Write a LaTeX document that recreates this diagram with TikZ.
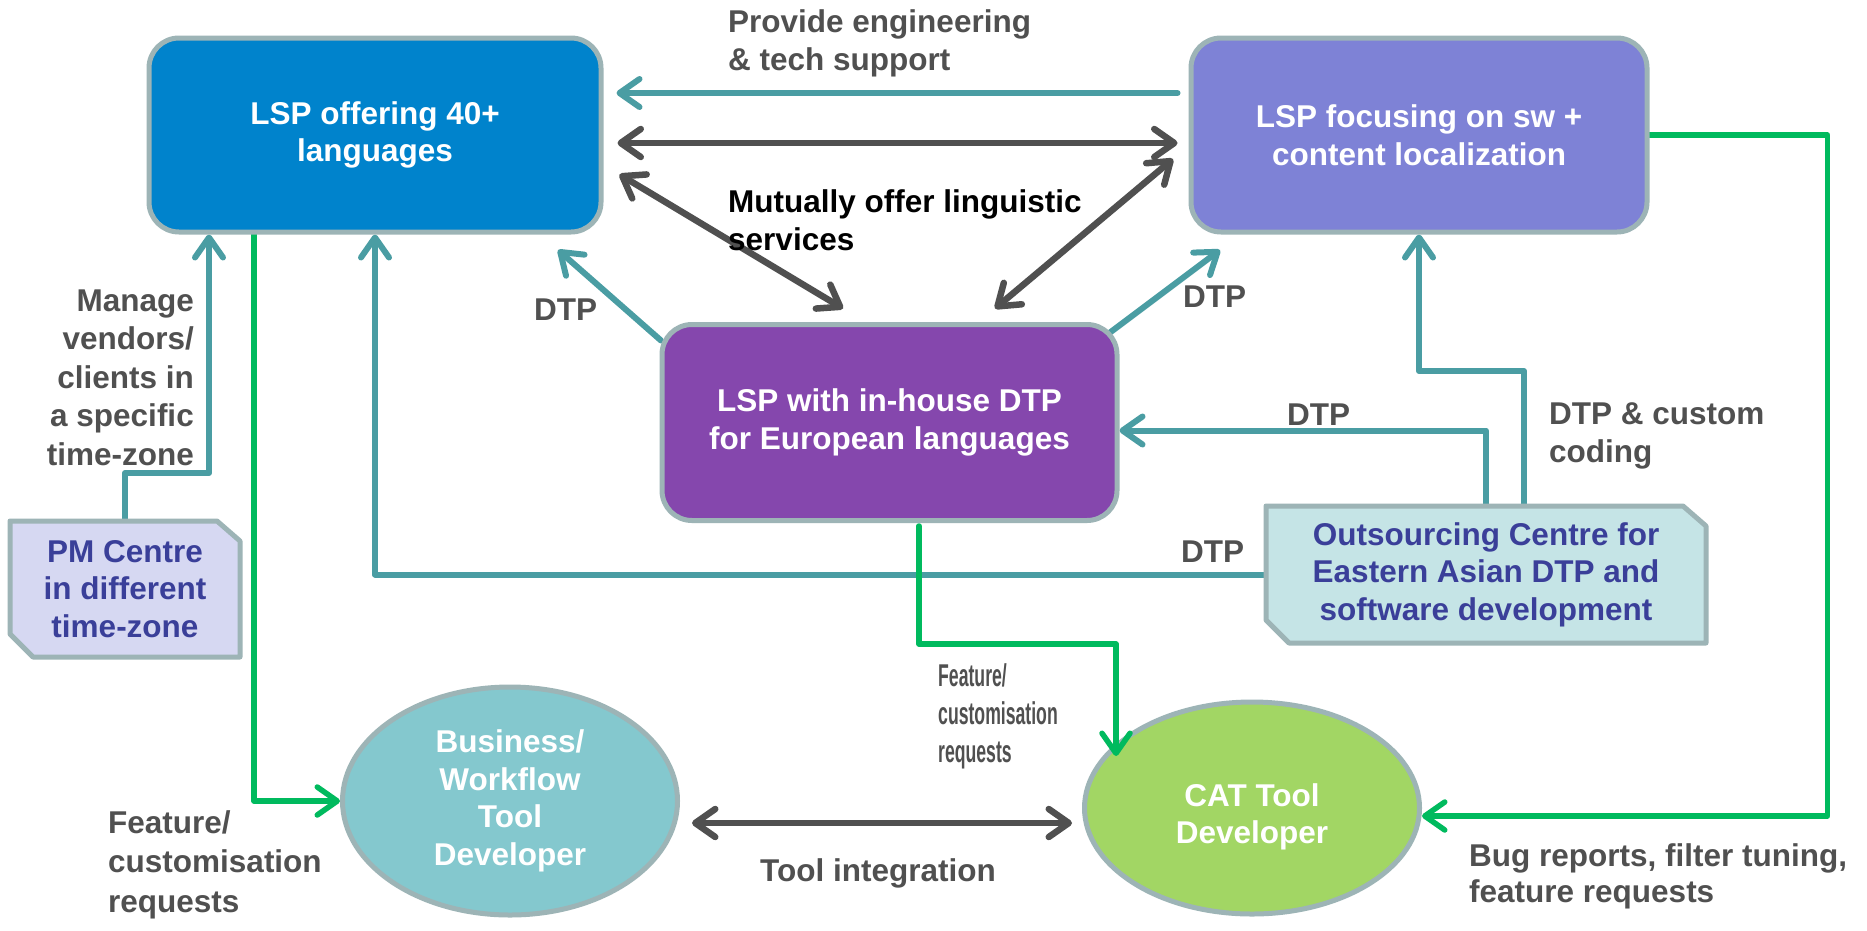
\documentclass[tikz,border=0pt]{standalone}
\usepackage{fontspec}
\setmainfont{Liberation Sans}
\usetikzlibrary{arrows.meta,shapes.geometric,calc}
\pgfdeclarelayer{canvas}
\pgfdeclarelayer{links}
\pgfdeclarelayer{plates}
\pgfdeclarelayer{overlinks}
\pgfsetlayers{canvas,links,plates,main,overlinks}

\definecolor{lspblue}{HTML}{0083CC}
\definecolor{lspviolet}{HTML}{7E82D6}
\definecolor{lsppurple}{HTML}{8547AD}
\definecolor{edgegray}{HTML}{9DB4B6}
\definecolor{pmfill}{HTML}{D6D8F2}
\definecolor{osfill}{HTML}{C5E4E6}
\definecolor{navytext}{HTML}{3A3F99}
\definecolor{bizfill}{HTML}{84C8CE}
\definecolor{catfill}{HTML}{A2D664}
\definecolor{linkteal}{HTML}{4A9DA3}
\definecolor{linkgreen}{HTML}{00BA5E}
\definecolor{linkgray}{HTML}{505050}
\definecolor{labelgray}{HTML}{505050}

\newcommand{\diagfont}{\fontsize{31.5}{37.5}\selectfont\bfseries}
% horizontally condensed line of text
\newcommand{\narrowline}[1]{\scalebox{0.56}[1]{#1}}

\begin{document}
\begin{tikzpicture}[x=1pt,y=-1pt,
  >={Straight Barb[length=20pt,width=28pt,round]},
  lsp/.style={draw=edgegray, line width=5pt, rounded corners=30pt,
    text=white, align=center, font=\diagfont},
  centre/.style={rectangle, inner sep=0pt, outer sep=0pt, text=navytext,
    align=center, font=\diagfont},
  plate/.style={draw=edgegray, line width=5pt, line join=round},
  dev/.style={ellipse, draw=edgegray, line width=5pt, inner sep=0pt,
    text=white, align=center, font=\diagfont},
  lbl/.style={text=labelgray, inner sep=0pt, font=\diagfont},
  tealline/.style={draw=linkteal, line width=6pt, line cap=round, line join=round},
  greenline/.style={draw=linkgreen, line width=5.5pt, line cap=round, line join=round},
  grayline/.style={draw=linkgray, line width=6.5pt, line cap=round, line join=round}]

\begin{pgfonlayer}{canvas}
  \fill[white] (0,0) rectangle (1867,930);
\end{pgfonlayer}
\useasboundingbox (0,0) rectangle (1867,930);

% service providers
\node[lsp, fill=lspblue, minimum width=452pt, minimum height=194pt] (A) at (375,135)
  {LSP offering 40+\\languages};
\node[lsp, fill=lspviolet, minimum width=456pt, minimum height=194pt] (B) at (1419,135)
  {LSP focusing on sw +\\content localization};
\node[lsp, fill=lsppurple, minimum width=455pt, minimum height=196pt] (C) at (889.5,422.5)
  {LSP with in-house DTP\\for European languages};

% centres (plates with two clipped corners)
\node[centre, minimum width=230pt, minimum height=136pt] (PM) at (125,589)
  {PM Centre\\in different\\time-zone};
\node[centre, minimum width=440pt, minimum height=137pt] (O) at (1486,574.5)
  {Outsourcing Centre for\\Eastern Asian DTP and\\software development};
\begin{pgfonlayer}{plates}
  \foreach \c/\f in {PM/pmfill, O/osfill}{
    \filldraw[plate, fill=\f] (\c.north west) -- ($(\c.north east)+(-23,0)$)
      -- ($(\c.north east)+(0,20)$) -- (\c.south east)
      -- ($(\c.south west)+(23,0)$) -- ($(\c.south west)+(0,-23)$) -- cycle;
  }
\end{pgfonlayer}

% tool developers
\node[dev, fill=bizfill, minimum width=335pt, minimum height=228pt] (Bus) at (510,801)
  {Business/\\Workflow\\Tool\\Developer};
\node[dev, fill=catfill, minimum width=335pt, minimum height=212pt] (CAT) at (1252,808) {};
\node[text=white, align=center, font=\diagfont, inner sep=0pt] (CATtext) at (1252,817)
  {CAT Tool\\Developer};

\begin{pgfonlayer}{links}
  \coordinate (ysupport) at (0,93);
  \coordinate (ymutual) at (0,143);
  \coordinate (ytool) at (0,823);

  % between the two upper providers
  \draw[tealline,->,shorten <=11pt,shorten >=13pt] (B.west |- ysupport) -- (A.east |- ysupport);
  \draw[grayline,<->,shorten <=14pt,shorten >=11pt] (A.east |- ymutual) -- (B.west |- ymutual);

  % linguistic services with the DTP provider
  \draw[grayline,<->] ($(A.south east)+(16,-60)$) -- ($(C.north)+(-46.5,-13.5)$);
  \draw[grayline,<->] ($(B.south west)+(-15.5,-75.5)$) -- ($(C.north)+(105.5,-13.5)$);

  % DTP from the European provider
  \draw[tealline,->] ($(C.north west)+(1.5,18.5)$) -- ($(A.south)+(183,15.5)$);
  \draw[tealline,->] ($(C.north east)+(-17.5,16.5)$) -- ($(B.south west)+(31.5,15.5)$);

  % PM centre
  \draw[tealline,->] (PM.north) -- ++(0,-48) -| ($(A.south)+(-166,0)$);

  % outsourcing centre
  \draw[tealline,->] (O.west) -| (A.south);
  \draw[tealline,->] (O.north) |- ($(C.east)+(0,8)$);
  \draw[tealline,->] ($(O.north)+(38,0)$) -- ++(0,-135) -| (B.south);

  % requests to the tool developers
  \draw[greenline,->] ($(A.south)+(-121,0)$) |- (Bus.west);
  \draw[greenline,->] (B.east) -- ++(178,0) |- ($(CAT.east)+(0,8)$);

  % tool integration
  \draw[grayline,<->,shorten <=12pt,shorten >=10pt] (Bus.east |- ytool) -- (CAT.west |- ytool);
\end{pgfonlayer}

\begin{pgfonlayer}{overlinks}
  \draw[greenline,->] ($(C.south)+(29.5,3)$) -- ++(0,118) -| ($(CAT.center)+(-136,-52)$);
\end{pgfonlayer}

% labels (anchored at the baseline of their last line)
\node[lbl, anchor=base west, align=left] (lsupport) at (728,70)
  {Provide engineering\\\& tech support};
\node[lbl, text=black, anchor=base west, align=left] (lmutual) at (728,250)
  {Mutually offer linguistic\\services};
\node[lbl, anchor=base west] (ldtpA) at (534,320) {DTP};
\node[lbl, anchor=base west] (ldtpB) at (1183,307) {DTP};
\node[lbl, anchor=base east, align=right, font=\fontsize{31.5}{38.5}\selectfont\bfseries] (lmanage) at (194,465)
  {Manage\\vendors/\\clients in\\a specific\\time-zone};
\node[lbl, anchor=base west] (ldtpC) at (1287,425) {DTP};
\node[lbl, anchor=base west, align=left] (lcustom) at (1549,462)
  {DTP \& custom\\coding};
\node[lbl, anchor=base west] (ldtpO) at (1181,562) {DTP};
\node[lbl, anchor=base west, align=left, font=\fontsize{31.5}{39.5}\selectfont\bfseries] (lfeatBus) at (108,912)
  {Feature/\\customisation\\requests};
\node[lbl, anchor=base west, align=left, font=\fontsize{31.5}{38}\selectfont\bfseries] (lfeatCAT) at (938,762)
  {\narrowline{Feature/}\\\narrowline{customisation}\\\narrowline{requests}};
\node[lbl, anchor=base west] (ltool) at (760,881) {Tool integration};
\node[lbl, anchor=base west, align=left, font=\fontsize{31.5}{36}\selectfont\bfseries] (lbug) at (1469,902)
  {Bug reports, filter tuning,\\feature requests};

\end{tikzpicture}
\end{document}
